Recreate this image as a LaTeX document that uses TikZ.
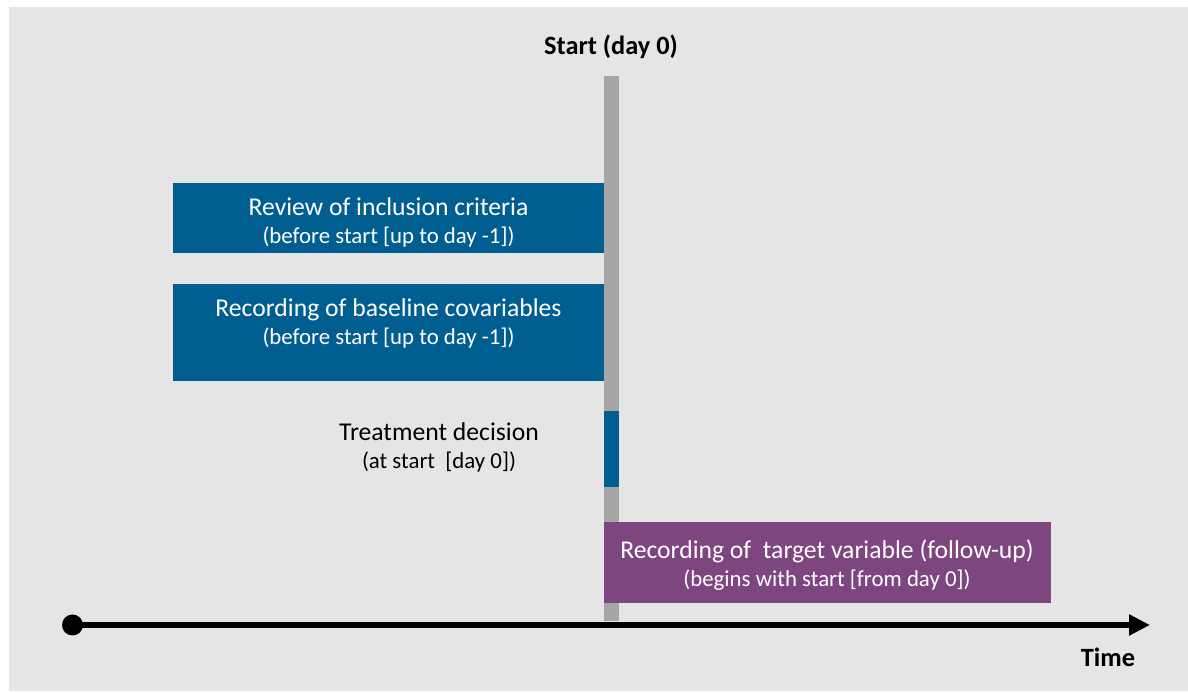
\documentclass[tikz,border=0pt]{standalone}
\usepackage{fontspec}
\setmainfont{Carlito}
\usepackage{tikz}
\usetikzlibrary{arrows.meta,positioning}
\definecolor{panelgray}{RGB}{229,229,229}
\definecolor{bargray}{RGB}{166,166,166}
\definecolor{phaseblue}{RGB}{0,94,144}
\definecolor{followpurple}{RGB}{125,70,128}
\tikzset{
  phasebox/.style={
    rectangle,
    fill=phaseblue,
    minimum width=8.62cm,
    inner sep=0pt,
    anchor=south west
  },
  followbox/.style={
    phasebox,
    fill=followpurple,
    minimum width=8.94cm
  },
  startbar/.style={
    rectangle,
    fill=bargray,
    minimum width=0.3cm,
    inner sep=0pt,
    anchor=south
  },
  boxtitle/.style={
    anchor=base,
    inner sep=0pt,
    text=white,
    font=\fontsize{14.6}{17}\selectfont
  },
  boxsub/.style={
    boxtitle,
    font=\fontsize{13}{15}\selectfont
  },
  axislabel/.style={
    anchor=base,
    inner sep=0pt,
    font=\fontsize{15}{18}\selectfont\bfseries
  },
  timeline/.style={
    line width=0.13cm,
    -{Triangle[length=0.42cm,width=0.4cm]}
  }
}
% title and subtitle of one phase, baselines 0.56cm apart
\newcommand{\phaselabel}[5]{%
  \node[boxtitle, #2] (#1-title) at (#3) {#4};
  \node[boxsub, #2] (#1-sub) at ([yshift=-0.56cm]#1-title.base) {#5};%
}

\begin{document}
\begin{tikzpicture}
  \useasboundingbox (0,0) rectangle (23.76,13.86);
  \fill[panelgray] (0.18,0.04) rectangle (23.76,13.72);

  % Start of follow-up
  \node[startbar, minimum height=10.9cm] (start) at (12.23,1.44) {};
  \node[axislabel] (start-label) at (12.22,12.76) {Start (day 0)};

  % Before start
  \node[phasebox, minimum height=1.4cm] (review) at (3.46,8.8) {};
  \phaselabel{review}{}{7.77,9.54}{Review of inclusion criteria}{(before start [up to day -1])}

  \node[phasebox, minimum height=1.94cm] (baseline) at (3.46,6.24) {};
  \phaselabel{baseline}{}{7.77,7.52}{Recording of baseline covariables}{(before start [up to day -1])}

  % At start
  \node[startbar, fill=phaseblue, minimum height=1.52cm] (decision) at (12.23,4.12) {};
  \phaselabel{decision}{text=black}{8.78,5.04}{Treatment decision}{(at start \ [day 0])}

  % After start
  \node[followbox, minimum height=1.62cm] (followup) at (12.08,1.8) {};
  \phaselabel{followup}{}{16.54,2.68}{Recording of \ target variable (follow-up)}{(begins with start [from day 0])}

  % Time axis
  \node[circle, fill=black, minimum size=0.42cm, inner sep=0pt] (t0) at (1.45,1.36) {};
  \coordinate (tend) at (23.0,1.36);
  \draw[timeline] (t0.center) -- (tend);
  \node[axislabel] (time-label) at (22.16,0.52) {Time};
\end{tikzpicture}
\end{document}
